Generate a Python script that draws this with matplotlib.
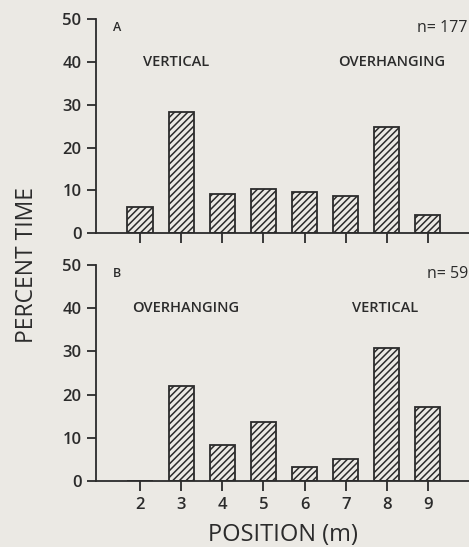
import matplotlib.pyplot as plt

# Percent time spent at each position
positions = [2, 3, 4, 5, 6, 7, 8, 9]
pct_a = [6.1, 28.4, 9.1, 10.3, 9.7, 8.7, 24.8, 4.3]
pct_b = [0, 22.0, 8.3, 13.6, 3.3, 5.1, 30.9, 17.1]
y_ticks = [0, 10, 20, 30, 40, 50]

paper = '#ebe9e4'
ink = '#2b2b2b'
plt.rcParams['font.family'] = ['Open Sans', 'DejaVu Sans']
plt.rcParams['hatch.linewidth'] = 1.1
plt.rcParams['hatch.color'] = ink

fig = plt.figure(figsize=(4.69, 5.47), dpi=100, facecolor=paper)
ax_a = fig.add_axes([0.2047, 0.5735, 0.7953, 0.3915])
ax_b = fig.add_axes([0.2047, 0.1207, 0.7953, 0.3948])

panels = [
    (ax_a, pct_a, 'A', 'n= 177', 'VERTICAL', 2.88, 'OVERHANGING', 8.12),
    (ax_b, pct_b, 'B', 'n= 59', 'OVERHANGING', 3.1, 'VERTICAL', 7.96),
]

for ax, vals, letter, n_text, left_lab, left_x, right_lab, right_x in panels:
    ax.set_facecolor(paper)
    ax.bar(positions, vals, width=0.61, facecolor=paper, edgecolor=ink,
           linewidth=1.3, hatch='/////', zorder=2)
    ax.set_xlim(0.93, 10.0)
    ax.set_ylim(0, 50)
    ax.spines['top'].set_visible(False)
    ax.spines['right'].set_visible(False)
    ax.spines['left'].set_color(ink)
    ax.spines['bottom'].set_color(ink)
    ax.spines['left'].set_linewidth(1.3)
    ax.spines['bottom'].set_linewidth(1.3)
    ax.set_yticks(y_ticks)
    ax.set_xticks(positions)
    ax.tick_params(axis='y', direction='out', length=6.5, width=1.3, color=ink,
                   labelcolor=ink, labelsize=12, pad=4)
    ax.tick_params(axis='x', direction='out', length=7.5, width=1.3, color=ink,
                   labelcolor=ink, labelsize=12, pad=4)
    for lab in ax.get_yticklabels() + ax.get_xticklabels():
        lab.set_fontweight('semibold')
    ax.text(1.35, 48, letter, fontsize=9, color=ink, fontweight='semibold',
            va='center', ha='left')
    ax.text(9.97, 48, n_text, fontsize=11.5, color=ink, va='center', ha='right')
    ax.text(left_x, 40, left_lab, fontsize=10.5, color=ink,
            fontweight='semibold', va='center', ha='center')
    ax.text(right_x, 40, right_lab, fontsize=10.5, color=ink,
            fontweight='semibold', va='center', ha='center')

ax_a.set_xticklabels([])
ax_b.set_xlabel('POSITION (m)', fontsize=17, color=ink, labelpad=7)
fig.text(0.058, 0.515, 'PERCENT TIME', rotation=90, fontsize=16.5, color=ink,
         ha='center', va='center')

fig.savefig('out.png', dpi=100, facecolor=paper)
